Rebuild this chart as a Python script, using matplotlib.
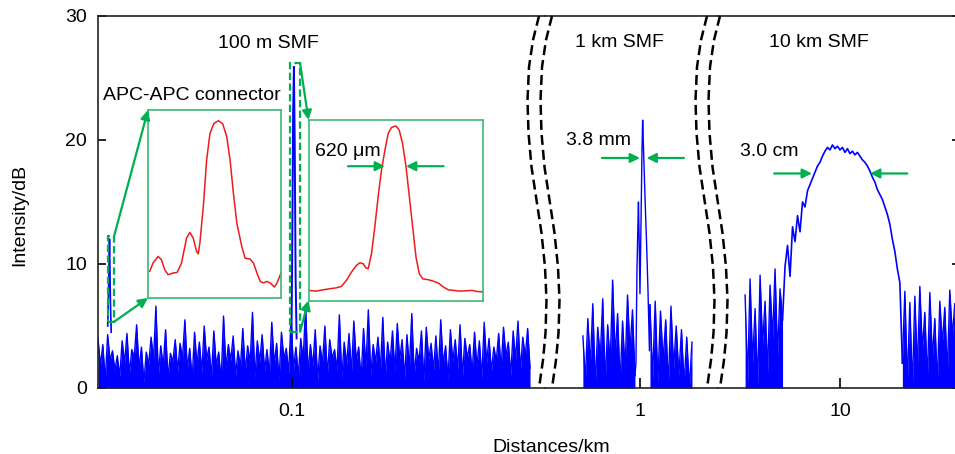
import numpy as np
import matplotlib.pyplot as plt
from matplotlib.lines import Line2D
from matplotlib.patches import Rectangle, ConnectionPatch
from matplotlib.ticker import NullLocator

plt.rcParams['font.family'] = ['Liberation Sans', 'DejaVu Sans']

W, H = 955, 454

# ---- 100 m SMF trace (dB), sampled evenly across the first panel ----
noise_100m = [
    4.0, 1.8, 3.5, 0.6, 4.3, 2.2, 3.0, 1.4, 2.6, 0.9, 3.8, 2.0, 4.4, 1.1, 3.1, 2.5, 5.1, 1.6, 3.3, 0.4,
    2.9, 1.9, 4.1, 2.3, 6.6, 1.0, 3.4, 1.7, 4.7, 0.8, 2.8, 2.1, 3.9, 1.3, 3.6, 2.4, 5.5, 1.5, 3.2, 0.7,
    4.5, 1.9, 3.7, 1.2, 5.0, 2.3, 3.3, 0.9, 4.6, 1.8, 2.9, 0.5, 5.8, 1.6, 3.5, 2.2, 4.2, 1.0, 3.0, 1.7,
    4.8, 1.3, 3.4, 2.0, 6.1, 0.8, 3.8, 2.1, 4.3, 1.4, 3.1, 1.1, 5.3, 1.9, 3.6, 0.6, 4.5, 2.4, 3.2, 1.2,
    5.6, 1.5, 3.3, 0.9, 4.0, 2.2, 6.7, 1.2, 3.5, 1.7, 4.7, 0.6, 3.4, 2.0, 5.0, 1.0, 3.9, 2.4, 3.1, 1.4,
    5.9, 0.8, 3.7, 1.9, 4.4, 1.2, 5.4, 2.2, 3.3, 0.7, 4.8, 1.7, 6.3, 1.1, 3.5, 2.1, 4.1, 1.4, 5.7, 0.9,
    3.7, 2.0, 4.6, 1.3, 5.2, 2.3, 3.9, 0.8, 4.3, 1.6, 6.0, 1.0, 3.2, 2.1, 4.6, 0.5, 4.9, 2.3, 3.6, 1.4,
    4.2, 1.1, 5.5, 1.9, 3.4, 0.7, 4.7, 2.1, 3.9, 1.5, 5.1, 0.9, 4.0, 2.4, 3.5, 1.2, 4.5, 1.7, 3.8, 0.8,
    5.3, 2.0, 4.0, 1.3, 3.3, 2.2, 4.4, 1.5, 4.9, 2.6, 3.7, 1.0, 4.6, 2.3, 5.4, 1.4, 4.1, 2.5, 4.8, 1.6,
]
connector_km = [0.03458, 0.03478, 0.03494, 0.03512, 0.03528]
connector_db = [5.0, 8.5, 12.0, 7.0, 4.5]
pulse_100m_km = [0.09943, 0.1000, 0.10058, 0.10104, 0.1015, 0.10203, 0.10262]
pulse_100m_db = [1.0, 10.0, 22.0, 25.9, 20.0, 9.0, 4.0]

# ---- 1 km SMF trace ----
noise_1km_left = [4.2, 0.6, 5.6, 1.8, 6.8, 0.2, 4.9, 2.4, 7.2, 0.5, 5.1,
                  1.9, 8.7, 2.6, 6.0, 0.3, 5.4, 1.4, 7.5, 3.0, 6.3, 1.0]
pulse_1km_km = [0.9772, 0.9829, 0.9874, 0.9914, 0.9954, 1.0, 1.0058,
                1.0116, 1.0157, 1.0203, 1.0292, 1.0381, 1.0471, 1.0562]
pulse_1km_db = [2.0, 9.5, 12.5, 15.0, 12.0, 7.6, 13.0,
                19.0, 21.6, 19.5, 15.5, 12.0, 8.0, 3.0]
noise_1km_right = [6.7, 0.8, 7.0, 0.4, 6.2, 2.2, 5.5, 0.2, 6.6,
                   1.6, 5.0, 1.0, 4.7, 0.3, 4.1, 0.0, 3.7]

# ---- 10 km SMF trace ----
noise_10km_left = [7.5, 0.5, 8.8, 2.0, 6.4, 0.2, 9.1, 3.5, 7.0, 1.2, 8.3, 4.0, 9.6, 2.6, 8.0, 5.5]
dome_10km = [
    9.8, 11.5, 9.0, 13.0, 11.8, 13.9, 12.6, 15.0, 14.6, 15.9, 16.4, 16.9, 17.4, 17.9, 18.2, 18.7,
    19.1, 19.4, 19.2, 19.6, 19.3, 19.5, 19.2, 19.4, 19.0, 19.3, 18.9, 19.1, 18.8, 19.0, 18.7,
    18.4, 18.2, 17.9, 17.5, 17.0, 16.6, 16.0, 15.6, 15.2, 14.6, 14.0, 13.2, 12.0, 11.0, 9.6, 8.5,
]
noise_10km_right = [2.0, 7.8, 0.4, 6.9, 0.0, 7.4, 1.5, 8.2, 3.0, 6.1, 0.6,
                    7.7, 2.4, 5.6, 0.3, 7.0, 3.6, 6.5, 1.1, 7.9, 4.2, 6.8]

# ---- zoomed pulses in the insets (normalised units) ----
conn_zoom_x = [0.013, 0.038, 0.076, 0.101, 0.126, 0.151, 0.189, 0.219, 0.252, 0.290, 0.315, 0.340,
               0.365, 0.378, 0.390, 0.416, 0.441, 0.466, 0.496, 0.529, 0.562, 0.592, 0.617, 0.642,
               0.668, 0.705, 0.730, 0.768, 0.793, 0.819, 0.844, 0.869, 0.894, 0.919, 0.950, 0.970, 1.0]
conn_zoom_y = [0.142, 0.186, 0.221, 0.204, 0.150, 0.124, 0.133, 0.136, 0.186, 0.319, 0.349, 0.319,
               0.248, 0.235, 0.292, 0.487, 0.735, 0.876, 0.929, 0.943, 0.926, 0.858, 0.735, 0.558,
               0.398, 0.274, 0.212, 0.207, 0.186, 0.133, 0.088, 0.080, 0.088, 0.080, 0.058, 0.080, 0.133]
pulse_zoom_x = [0.0, 0.044, 0.083, 0.121, 0.159, 0.188, 0.217, 0.246, 0.274, 0.294, 0.313, 0.328,
                0.342, 0.361, 0.380, 0.399, 0.418, 0.438, 0.457, 0.476, 0.501, 0.520, 0.539, 0.559,
                0.578, 0.597, 0.616, 0.635, 0.655, 0.687, 0.716, 0.745, 0.774, 0.802, 0.831, 0.869,
                0.908, 0.937, 0.965, 1.0]
pulse_zoom_y = [0.056, 0.052, 0.059, 0.065, 0.070, 0.078, 0.111, 0.157, 0.194, 0.209, 0.204, 0.181,
                0.176, 0.259, 0.407, 0.574, 0.722, 0.833, 0.926, 0.959, 0.967, 0.944, 0.870, 0.741,
                0.574, 0.407, 0.241, 0.148, 0.120, 0.115, 0.107, 0.096, 0.074, 0.059, 0.056, 0.052,
                0.054, 0.056, 0.050, 0.048]

blue = '#0000ff'
green = '#00b050'
box_green = '#3cb878'


def fx(px):
    return px / W


def fy(py):
    return 1 - py / H


def noisy(ax, x, y, lw=1.0):
    # dense noise floor: trace plus the area under it
    ax.fill_between(x, 0, y, color=blue, lw=0)
    ax.plot(x, y, color=blue, lw=lw)


fig = plt.figure(figsize=(9.55, 4.54), dpi=100)

# three panels of a broken log axis
bot, top = fy(388), fy(16)
axA = fig.add_axes([fx(98), bot, fx(545 - 98), top - bot])
axB = fig.add_axes([fx(545), bot, fx(718 - 545), top - bot], sharey=axA)
axC = fig.add_axes([fx(718), bot, fx(960 - 718), top - bot], sharey=axA)

noisy(axA, np.geomspace(0.0327, 0.3936, len(noise_100m)), noise_100m)
axA.plot(connector_km, connector_db, color=blue, lw=1.2)
axA.plot(pulse_100m_km, pulse_100m_db, color=blue, lw=1.4)

x_left = np.geomspace(0.720, 0.9716, len(noise_1km_left))
x_right = np.geomspace(1.0593, 1.349, len(noise_1km_right))
noisy(axB, x_left, noise_1km_left)
noisy(axB, x_right, noise_1km_right)
axB.plot([x_left[-1]] + pulse_1km_km + [x_right[0]],
         [noise_1km_left[-1]] + pulse_1km_db + [noise_1km_right[0]], color=blue, lw=1.0)

n1, n2 = len(noise_10km_left), len(dome_10km)
x10 = np.geomspace(5.786, 19.36, n1 + n2 + len(noise_10km_right))
noisy(axC, x10[:n1], noise_10km_left)
noisy(axC, x10[n1 + n2:], noise_10km_right)
axC.plot(x10[n1 - 1:n1 + n2 + 1], [noise_10km_left[-1]] + dome_10km + [noise_10km_right[0]],
         color=blue, lw=1.2)

for ax, lim, tick, lab in [(axA, (0.0327, 0.429), 0.1, '0.1'),
                           (axB, (0.579, 1.567), 1, '1'),
                           (axC, (4.95, 19.95), 10, '10')]:
    ax.set_xscale('log')
    ax.set_xlim(*lim)
    ax.set_xticks([tick])
    ax.set_xticklabels([lab])
    ax.xaxis.set_minor_locator(NullLocator())
    ax.tick_params(axis='x', direction='in', length=7, width=1.2, labelsize=14, pad=11)
    for s in ax.spines.values():
        s.set_linewidth(1.2)
        s.set_color('#222222')

axA.set_ylim(0, 30)
axA.set_yticks([0, 10, 20, 30])
axA.tick_params(axis='y', direction='in', length=6, width=1.2, labelsize=14, pad=8)
axA.spines['right'].set_visible(False)
axB.spines['left'].set_visible(False)
axB.spines['right'].set_visible(False)
axB.tick_params(axis='y', left=False, labelleft=False)
axC.spines['left'].set_visible(False)
axC.tick_params(axis='y', left=False, labelleft=False, right=True, direction='in',
                length=6, width=1.2)

# dashed markers around the connector reflection and the 0.1 km pulse
dash = (0, (3.3, 1.5))
axA.add_patch(Rectangle((0.0346, 5.35), 0.0359 - 0.0346, 12.28 - 5.35, fill=False,
                        ec=green, lw=1.6, ls=dash, zorder=6, clip_on=False))
axA.add_patch(Rectangle((0.0989, 4.54), 0.1047 - 0.0989, 26.19 - 4.54, fill=False,
                        ec=green, lw=1.6, ls=dash, zorder=6, clip_on=False))

# insets with the zoomed pulses
ins1 = fig.add_axes([fx(148), fy(298), fx(281 - 148), (298 - 110) / H])
ins2 = fig.add_axes([fx(308.5), fy(300.5), fx(483 - 308.5), (300.5 - 120) / H])
ins1.plot(conn_zoom_x, conn_zoom_y, color='#ee1c1c', lw=1.1)
ins2.plot(pulse_zoom_x, pulse_zoom_y, color='#ee1c1c', lw=1.1)
for ins in (ins1, ins2):
    ins.set_xlim(0, 1)
    ins.set_ylim(0, 1)
    ins.set_xticks([])
    ins.set_yticks([])
    for s in ins.spines.values():
        s.set_color(box_green)
        s.set_linewidth(1.2)

arrow = dict(arrowstyle='-|>', color=green, lw=1.6, mutation_scale=14, shrinkA=0, shrinkB=0)
for xyA, ins, xyB in [((0.0359, 12.28), ins1, (0, 1)), ((0.0359, 5.35), ins1, (0, 0)),
                      ((0.1047, 26.19), ins2, (0, 1)), ((0.1047, 4.54), ins2, (0, 0))]:
    fig.add_artist(ConnectionPatch(xyA=xyA, coordsA=axA.transData, xyB=xyB,
                                   coordsB=ins.transAxes, **arrow))

# FWHM markers
ins2.annotate('', xy=(0.438, 0.744), xytext=(0.226, 0.744), xycoords='axes fraction', arrowprops=arrow)
ins2.annotate('', xy=(0.559, 0.744), xytext=(0.774, 0.744), xycoords='axes fraction', arrowprops=arrow)
ins2.text(0.037, 0.80, '620 μm', transform=ins2.transAxes, fontsize=14, va='baseline')
axB.annotate('', xy=(1.0, 18.55), xytext=(0.8035, 18.55), arrowprops=arrow)
axB.annotate('', xy=(1.039, 18.55), xytext=(1.288, 18.55), arrowprops=arrow)
axC.annotate('', xy=(8.50, 17.3), xytext=(6.84, 17.3), arrowprops=arrow)
axC.annotate('', xy=(11.89, 17.3), xytext=(14.73, 17.3), arrowprops=arrow)

# axis-break marks
wave_y = [16, 40, 67, 100, 133, 167, 200, 233, 267, 300, 333, 360, 388]
wave_dx = [0, -6, -10, -11.5, -10.5, -7.5, -2.5, 2.5, 6, 7.5, 6.5, 4, 0]
for x0 in (539, 707):
    for off in (0, 13):
        fig.add_artist(Line2D([fx(x0 + off + d) for d in wave_dx], [fy(y) for y in wave_y],
                              transform=fig.transFigure, color='black', lw=1.8, ls=(0, (4, 2))))

# labels
fig.text(fx(268), fy(48), '100 m SMF', ha='center', va='baseline', fontsize=14)
fig.text(fx(619.5), fy(47), '1 km SMF', ha='center', va='baseline', fontsize=14)
fig.text(fx(819), fy(47), '10 km SMF', ha='center', va='baseline', fontsize=14)
fig.text(fx(103), fy(100), 'APC-APC connector', ha='left', va='baseline', fontsize=14)
fig.text(fx(598), fy(145), '3.8 mm', ha='center', va='baseline', fontsize=14)
fig.text(fx(769.5), fy(156.5), '3.0 cm', ha='center', va='baseline', fontsize=14)
fig.text(fx(551), fy(451.5), 'Distances/km', ha='center', va='baseline', fontsize=14)
fig.text(fx(20), fy(215), 'Intensity/dB', rotation=90, ha='center', va='center', fontsize=14)

fig.savefig('out.png', dpi=100)
